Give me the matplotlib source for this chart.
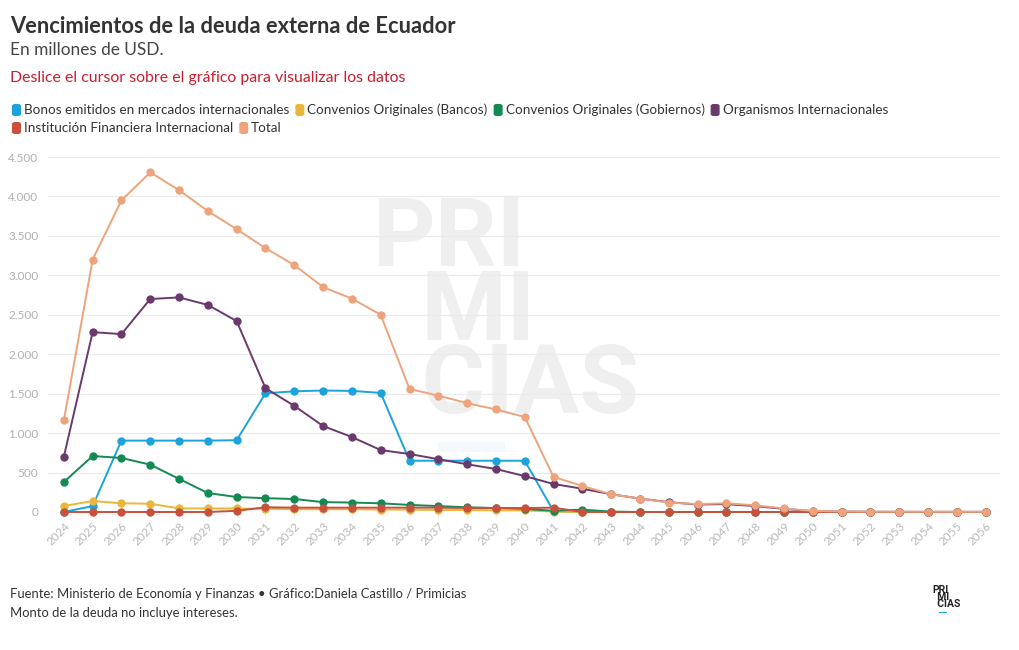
import matplotlib
matplotlib.use("Agg")
import matplotlib.pyplot as plt
from matplotlib.patches import FancyBboxPatch, Rectangle
from matplotlib.ticker import FuncFormatter

plt.rcParams['font.family'] = ['Lato', 'DejaVu Sans']

# datos (millones de USD)
years = list(range(2024, 2057))
bonos = [0, 75, 905, 905, 905, 905, 910, 1505, 1530, 1540, 1535, 1510, 650, 650, 650, 650, 650, 10,
         0, 0, 0, 0, 0, 0, 0, 0, 0, 0, 0, 0, 0, 0, 0]
bancos = [75, 140, 110, 105, 45, 45, 45, 40, 35, 35, 35, 30, 30, 25, 25, 20, 20, 5,
          0, 0, 0, 0, 0, 0, 0, 0, 0, 0, 0, 0, 0, 0, 0]
gobiernos = [380, 710, 685, 600, 420, 240, 190, 175, 165, 125, 120, 110, 90, 75, 60, 50, 40, 15,
             30, 5, 0, 0, 0, 0, 0, 0, 0, 0, 0, 0, 0, 0, 0]
organismos = [700, 2280, 2255, 2700, 2720, 2625, 2420, 1570, 1345, 1090, 950, 785, 735, 670, 605, 545, 455, 355,
              295, 225, 170, 125, 95, 100, 75, 40, 10, 5, 3, 2, 2, 2, 2]
ifi = [0, 0, 0, 0, 0, 0, 15, 60, 55, 55, 55, 55, 55, 55, 50, 50, 50, 55,
       0, 0, 0, 0, 0, 0, 0, 0, 0, 0, 0, 0, 0, 0, 0]
total = [1160, 3200, 3950, 4305, 4080, 3815, 3585, 3345, 3130, 2850, 2705, 2500, 1560, 1475, 1380, 1300, 1205, 445,
         330, 225, 170, 120, 100, 110, 85, 45, 13, 6, 4, 3, 3, 3, 3]

names = ['Bonos emitidos en mercados internacionales', 'Convenios Originales (Bancos)',
         'Convenios Originales (Gobiernos)', 'Organismos Internacionales',
         'Institución Financiera Internacional', 'Total']
series = [bonos, bancos, gobiernos, organismos, ifi, total]
colors = ['#1ba3dc', '#e9b83a', '#138a54', '#6a3a6c', '#c9503b', '#eda47c']

W, H = 1020, 650
fig = plt.figure(figsize=(W / 100, H / 100), dpi=100)
ax = fig.add_axes([48 / W, 1 - 512 / H, (1000 - 48) / W, (512 - 157) / H])

# marca de agua (debajo de la cuadrícula); la línea base es la de la última fila
ax.text(373 / W, 1 - 413 / H, 'PRI\n  MI\n  CIAS', transform=fig.transFigure, color='#efefef',
        fontsize=70, fontweight='bold', family='Roboto', va='baseline', ha='left',
        linespacing=0.74, zorder=0.1)
ax.add_patch(Rectangle((438 / W, 1 - 452 / H), 67 / W, 10 / H, transform=fig.transFigure,
                       facecolor='#f2f8fc', edgecolor='none', zorder=0.2, clip_on=False))

for i, (vals, c) in enumerate(zip(series, colors)):
    ax.plot(years, vals, color=c, lw=1.4, marker='o', ms=6, markeredgewidth=0,
            clip_on=False, zorder=3 + i)

ax.set_xlim(2023.45, 2056.5)
ax.set_ylim(0, 4500)
ax.set_yticks(range(0, 4501, 500))
ax.yaxis.set_major_formatter(FuncFormatter(lambda v, p: f'{int(v):,}'.replace(',', '.')))
ax.set_xticks(years)
ax.set_xticklabels([str(y) for y in years], rotation=45, ha='right', rotation_mode='anchor')
ax.grid(axis='y', color='#ebebeb', lw=0.9)
ax.set_axisbelow(True)
for s in ax.spines.values():
    s.set_visible(False)
ax.tick_params(axis='y', length=0, labelsize=8.5, labelcolor='#b0b0b0', pad=7)
ax.tick_params(axis='x', length=4, color='#f0f0f0', labelsize=8.5, labelcolor='#b8b8b8', pad=2)

# títulos
fig.text(10 / W, 1 - 33 / H, 'Vencimientos de la deuda externa de Ecuador', fontsize=15.75,
         fontweight='bold', color='#333333', va='baseline')
fig.text(10 / W, 1 - 55 / H, 'En millones de USD.', fontsize=12.4, color='#444444', va='baseline')
fig.text(10 / W, 1 - 82 / H, 'Deslice el cursor sobre el gráfico para visualizar los datos',
         fontsize=11.4, color='#c8202f', va='baseline')

# leyenda
renderer = fig.canvas.get_renderer()
rows = [(names[:4], colors[:4], 110), (names[4:], colors[4:], 128)]
for row_names, row_colors, yc in rows:
    x = 12
    for n, c in zip(row_names, row_colors):
        fig.patches.append(FancyBboxPatch((x / W, (H - yc - 6) / H), 9 / W, 12 / H,
                                          boxstyle='round,pad=0,rounding_size=0.003',
                                          transform=fig.transFigure, facecolor=c,
                                          edgecolor='none'))
        t = fig.text((x + 12) / W, 1 - yc / H, n, fontsize=9.7, color='#333333', va='center')
        bb = t.get_window_extent(renderer)
        x = bb.x1 + 6

# pie
fig.text(10 / W, 1 - 598 / H, 'Fuente: Ministerio de Economía y Finanzas • Gráfico:Daniela Castillo / Primicias',
         fontsize=9.35, color='#333333', va='baseline')
fig.text(10 / W, 1 - 617 / H, 'Monto de la deuda no incluye intereses.', fontsize=9.35,
         color='#333333', va='baseline')
fig.text(932 / W, 1 - 607 / H, 'PRI\n  MI\n  CIAS', fontsize=7.5, fontweight='bold',
         color='#222222', va='baseline', family='Roboto', linespacing=0.62)
fig.patches.append(Rectangle((939 / W, 1 - 613 / H), 8 / W, 1.2 / H, transform=fig.transFigure,
                             facecolor='#1ba3dc', edgecolor='none'))

fig.savefig('out.png', dpi=100, facecolor='white')
